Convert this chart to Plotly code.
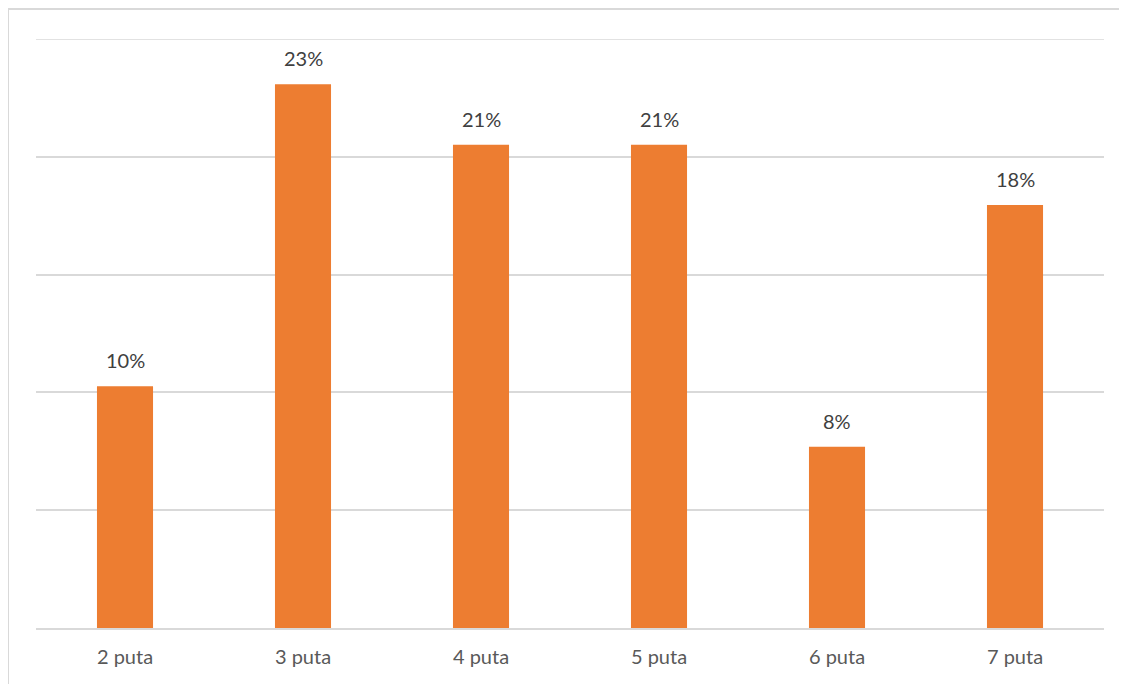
import plotly.graph_objects as go

categories = ["2 puta", "3 puta", "4 puta", "5 puta", "6 puta", "7 puta"]
values = [0.1026, 0.2308, 0.2051, 0.2051, 0.0769, 0.1795]
labels = ["10%", "23%", "21%", "21%", "8%", "18%"]

OFF = 8  # page body margin
W, H = 1127 - OFF, 684 - OFF
L, R, T, B = 36 - OFF, W - (1104 - OFF), 39 - OFF, H - (628 - OFF)
pw, ph = W - L - R, H - T - B

fig = go.Figure(go.Bar(
    x=categories, y=values,
    marker=dict(color="#ED7D31", line=dict(width=0)),
    hoverinfo="skip",
))

for c, v, t in zip(categories, values, labels):
    fig.add_annotation(x=c, y=v, text=t, showarrow=False, yanchor="middle",
                       yshift=26, font=dict(family="Lato", size=20, color="#404040"))

border = dict(color="#D9D9D9", width=2)
fig.update_layout(
    width=W, height=H,
    margin=dict(l=L, r=R, t=T, b=B),
    paper_bgcolor="white", plot_bgcolor="white",
    bargap=0.685, showlegend=False,
    font=dict(family="Lato", size=20, color="#595959"),
    xaxis=dict(showgrid=False, showline=True, linecolor="#D9D9D9", linewidth=2,
               ticks="outside", ticklen=10, tickcolor="rgba(0,0,0,0)",
               tickfont=dict(size=20, color="#595959")),
    yaxis=dict(range=[0, 0.25], tickvals=[0.05, 0.10, 0.15, 0.20, 0.25],
               showgrid=True, gridcolor="#D9D9D9",
               gridwidth=1.5, showticklabels=False, zeroline=False),
    shapes=[
        dict(type="line", xref="paper", yref="y", x0=0, x1=1, y0=0.25, y1=0.25,
             line=dict(color="#D9D9D9", width=1.5), layer="below"),
        dict(type="line", xref="paper", yref="paper",
             x0=(0 - L) / pw, x1=(W + 5 - L) / pw,
             y0=(T + ph - 1) / ph, y1=(T + ph - 1) / ph, line=border),
        dict(type="line", xref="paper", yref="paper",
             x0=(0 - L) / pw, x1=(0 - L) / pw,
             y0=(T + ph - 1) / ph, y1=(T + ph - H - 5) / ph, line=border),
    ],
)

fig.write_html("out.html", config={"displayModeBar": False},
               post_script="document.documentElement.style.overflow='hidden';document.body.style.overflow='hidden';")
